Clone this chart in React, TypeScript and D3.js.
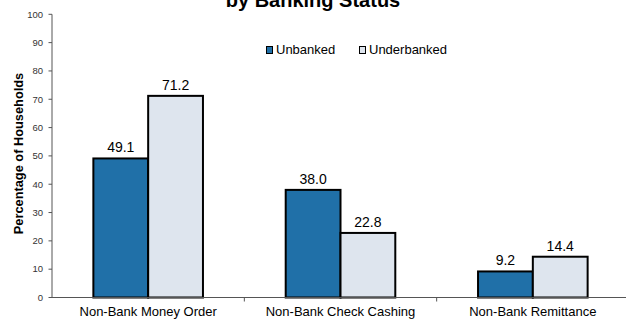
import React from "react";
import * as d3 from "d3";

const categories = ["Non-Bank Money Order", "Non-Bank Check Cashing", "Non-Bank Remittance"];
const seriesNames = ["Unbanked", "Underbanked"];
const unbanked = [49.1, 38.0, 9.2];
const underbanked = [71.2, 22.8, 14.4];
const yTicks = [0, 10, 20, 30, 40, 50, 60, 70, 80, 90, 100];
const colors = ["#2070A8", "#DEE5EE"];

const W = 626;
const H = 322;
const FONT = "'Liberation Sans', Arial, Helvetica, sans-serif";

export default function App() {
  const x0 = d3.scaleBand<string>().domain(categories).range([52, 629]).paddingInner(0).paddingOuter(0);
  const x1 = d3.scaleBand<string>().domain(seriesNames).range([0, x0.bandwidth()]).paddingInner(0).paddingOuter(0.755);
  const y = d3.scaleLinear().domain([0, 100]).range([297.5, 14.3]);
  const values = [unbanked, underbanked];
  const y0 = y(0);

  return (
    <svg width={W} height={H} style={{ position: "absolute", left: 0, top: 0, background: "#fff" }} fontFamily={FONT}>
      <rect x={0} y={0} width={W} height={H} fill="#fff" />
      <text x={313} y={7} textAnchor="middle" fontSize={20} fontWeight="bold" fill="#000">by Banking Status</text>

      {/* y axis */}
      <line x1={52} x2={52} y1={y(100)} y2={y0} stroke="#555" strokeWidth={1} />
      {yTicks.map((t) => (
        <g key={t}>
          <line x1={48.5} x2={52} y1={y(t)} y2={y(t)} stroke="#555" strokeWidth={1} />
          <text x={43} y={y(t) + 3.3} textAnchor="end" fontSize={9.5} fill="#333">{t}</text>
        </g>
      ))}
      <text transform={`translate(22.5,${153.5}) rotate(-90)`} textAnchor="middle" fontSize={12.8} fontWeight="bold" fill="#000">Percentage of Households</text>

      {/* bars */}
      {categories.map((c, i) => (
        <g key={c}>
          {seriesNames.map((s, j) => {
            const v = values[j][i];
            const bx = (x0(c) as number) + (x1(s) as number);
            return (
              <g key={s}>
                <rect x={bx} y={y(v)} width={x1.bandwidth()} height={y0 - y(v)} fill={colors[j]} stroke="#000" strokeWidth={2} />
                <text x={bx + x1.bandwidth() / 2} y={y(v) - 6} textAnchor="middle" fontSize={14} fill="#000">{v.toFixed(1)}</text>
              </g>
            );
          })}
        </g>
      ))}

      {/* x axis */}
      <line x1={52} x2={629} y1={y0} y2={y0} stroke="#555" strokeWidth={1} />
      {categories.map((c, i) => (
        <g key={c}>
          {i > 0 && <line x1={x0(c) as number} x2={x0(c) as number} y1={y0} y2={y0 + 4} stroke="#555" strokeWidth={1} />}
          <text x={(x0(c) as number) + x0.bandwidth() / 2} y={316} textAnchor="middle" fontSize={13} fill="#000">{c}</text>
        </g>
      ))}

      {/* legend */}
      {seriesNames.map((s, j) => {
        const lx = [266, 359][j];
        return (
          <g key={s}>
            <rect x={lx + 0.5} y={46.5} width={6} height={7} fill={colors[j]} stroke="#000" strokeWidth={1} />
            <text x={lx + 10} y={54} fontSize={13} fill="#000">{s}</text>
          </g>
        );
      })}
    </svg>
  );
}
